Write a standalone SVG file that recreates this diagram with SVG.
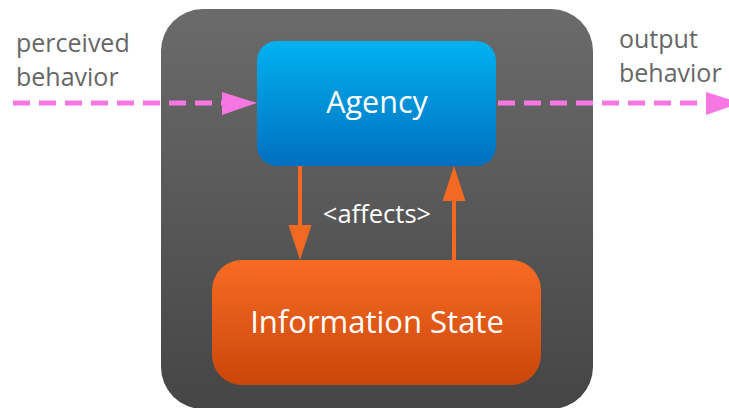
<svg xmlns="http://www.w3.org/2000/svg" width="729" height="408" viewBox="0 0 729 408">
  <defs>
    <linearGradient id="gContainer" x1="0" y1="0" x2="0" y2="1">
      <stop offset="0" stop-color="#6b6b6b"/>
      <stop offset="1" stop-color="#454545"/>
    </linearGradient>
    <linearGradient id="gAgency" x1="0" y1="0" x2="0" y2="1">
      <stop offset="0" stop-color="#00b2f0"/>
      <stop offset="1" stop-color="#0070c0"/>
    </linearGradient>
    <linearGradient id="gState" x1="0" y1="0" x2="0" y2="1">
      <stop offset="0" stop-color="#f86b24"/>
      <stop offset="1" stop-color="#c9470a"/>
    </linearGradient>
  </defs>
  <style>
    .lbl { font-family: "Open Sans", "Liberation Sans", sans-serif; fill: #666666; font-size: 25px; }
    .node-text { font-family: "Open Sans", "Liberation Sans", sans-serif; fill: #ffffff; text-anchor: middle; }
    .flow { stroke: #f777e2; stroke-width: 5; stroke-dasharray: 17 9; fill: none; }
    .pink { fill: #f777e2; }
    .orange { fill: #f26a22; }
  </style>

  <!-- outer agent container -->
  <g id="agent">
    <rect x="161" y="9" width="432" height="400" rx="42" fill="url(#gContainer)"/>
  </g>

  <g id="agency">
    <rect x="257" y="41" width="239" height="125" rx="20" fill="url(#gAgency)"/>
    <text class="node-text" x="377" y="113" font-size="30.5">Agency</text>
  </g>

  <g id="information-state">
    <rect x="212" y="260" width="329" height="125" rx="30" fill="url(#gState)"/>
    <text class="node-text" x="377" y="333" font-size="31">Information State</text>
  </g>

  <g id="connectors">
    <!-- perceived behavior in -->
    <line class="flow" x1="13" y1="103" x2="224" y2="103"/>
    <path class="pink" d="M222,92 L257,103 L222,115 Z"/>
    <!-- output behavior out -->
    <line class="flow" x1="498" y1="103" x2="708" y2="103"/>
    <path class="pink" d="M706,92 L741,103 L706,115 Z"/>
    <!-- agency to information state -->
    <rect class="orange" x="298" y="166" width="4" height="60"/>
    <path class="orange" d="M288.5,225 L311.5,225 L300,260 Z"/>
    <!-- information state to agency -->
    <rect class="orange" x="452" y="200" width="4" height="60"/>
    <path class="orange" d="M442.5,201 L465.5,201 L454,166 Z"/>
    <text class="node-text" x="377" y="223" font-size="25.5">&lt;affects&gt;</text>
  </g>

  <g id="labels">
    <text class="lbl" x="16" y="52">perceived</text>
    <text class="lbl" x="16" y="86">behavior</text>
    <text class="lbl" x="619" y="48">output</text>
    <text class="lbl" x="619" y="82">behavior</text>
  </g>
</svg>
